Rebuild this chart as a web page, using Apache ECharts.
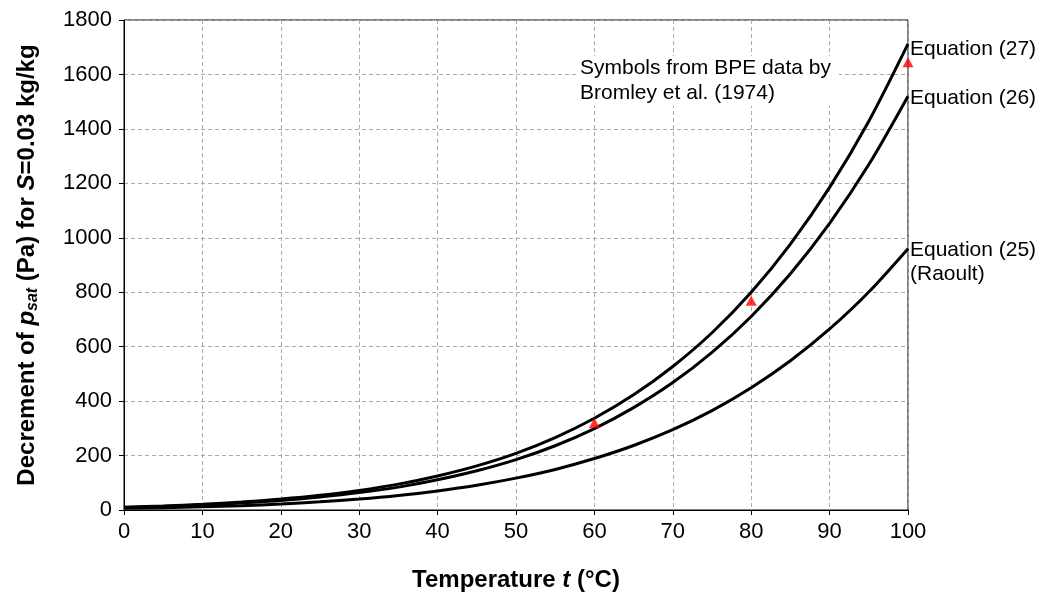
<!DOCTYPE html>
<html>
<head>
<meta charset="utf-8">
<script src="https://cdn.jsdelivr.net/npm/echarts@6/dist/echarts.min.js"></script>
<style>html,body{margin:0;padding:0;background:#fff;}#c{width:1054px;height:599px;}</style>
</head>
<body>
<div id="c"></div>
<script>
var temps = [0,5,10,15,20,25,30,35,40,45,50,55,60,65,70,75,80,85,90,95,100];
var eq25 = [6,8,12,16,22,30,40,53,70,91,117,149,189,237,295,365,449,548,665,801,960];
var eq26 = [9,13,18,26,35,48,64,84,111,144,185,236,299,376,468,579,711,868,1053,1269,1520];
var eq27 = [10,15,21,29,40,54,72,95,125,162,208,266,337,423,527,651,800,977,1185,1428,1712];
var bpeT = [60,80,100];
var bpeV = [320,769,1645];
var xTicks = [0,100,10];
var yTicks = [0,1800,200];

function pairs(xs, ys){ return xs.map(function(x,i){return [x, ys[i]];}); }
var FONT = 'Liberation Sans, Arial, sans-serif';
function lineSeries(name, data, label, off){
  return {
    name: name, type: 'line', data: pairs(temps, data), showSymbol: false, smooth: 0.3,
    lineStyle: {color: '#000', width: 3}, silent: true, z: 3,
    endLabel: {show: true, formatter: label, color: '#000', fontSize: 21, fontFamily: FONT,
      align: 'left', verticalAlign: 'top', lineHeight: 24, offset: off, distance: 2}
  };
}
var chart = echarts.init(document.getElementById('c'));
chart.setOption({
  animation: false,
  backgroundColor: '#fff',
  grid: {left: 124, right: 146, top: 20, bottom: 89, show: true, borderColor: '#000', borderWidth: 1},
  xAxis: {
    type: 'value', min: xTicks[0], max: xTicks[1], interval: xTicks[2],
    axisLine: {lineStyle: {color: '#000', width: 1}},
    axisTick: {show: true, length: 5, lineStyle: {color: '#000'}},
    axisLabel: {color: '#000', fontSize: 22, fontFamily: FONT, margin: 11},
    splitLine: {show: true, lineStyle: {color: '#aaa', type: [4,3], width: 1}},
    name: '{b|Temperature }{bi|t}{b| (°C)}', nameLocation: 'middle', nameGap: 58,
    nameTextStyle: {rich: {
      b: {fontSize: 24, fontWeight: 'bold', fontFamily: FONT, color: '#000'},
      bi: {fontSize: 24, fontWeight: 'bold', fontStyle: 'italic', fontFamily: FONT, color: '#000'}
    }}
  },
  yAxis: {
    type: 'value', min: yTicks[0], max: yTicks[1], interval: yTicks[2],
    axisLine: {show: true, lineStyle: {color: '#000', width: 1}},
    axisTick: {show: true, length: 5, lineStyle: {color: '#000'}},
    axisLabel: {color: '#000', fontSize: 22, fontFamily: FONT, margin: 12,
      formatter: function(v){ return String(v); }},
    splitLine: {show: true, lineStyle: {color: '#aaa', type: [4,3], width: 1}},
    name: '{b|Decrement of }{bi|p}{sub|sat}{b| (Pa) for }{bi|S}{b|=0.03 kg/kg}',
    nameLocation: 'middle', nameGap: 83,
    nameTextStyle: {rich: {
      b: {fontSize: 24, fontWeight: 'bold', fontFamily: FONT, color: '#000', lineHeight: 28, verticalAlign: 'middle'},
      bi: {fontSize: 24, fontWeight: 'bold', fontStyle: 'italic', fontFamily: FONT, color: '#000', lineHeight: 28, verticalAlign: 'middle'},
      sub: {fontSize: 16, fontWeight: 'bold', fontStyle: 'italic', fontFamily: FONT, color: '#000', lineHeight: 28, verticalAlign: 'bottom', padding: [10,0,0,0]}
    }}
  },
  series: [
    lineSeries('Equation (25)', eq25, 'Equation (25)\n(Raoult)', [0,-10]),
    lineSeries('Equation (26)', eq26, 'Equation (26)', [0,-10]),
    lineSeries('Equation (27)', eq27, 'Equation (27)', [0,-7]),
    {
      name: 'BPE', type: 'scatter', data: pairs(bpeT, bpeV), symbol: 'triangle', symbolSize: [11,10],
      itemStyle: {color: '#ff0000'}, z: 5, silent: true
    }
  ],
  graphic: [{
    type: 'text', left: 576, top: 56, z: 10,
    style: {text: 'Symbols from BPE data by\nBromley et al. (1974)', fill: '#000', fontSize: 21,
      fontFamily: FONT, lineHeight: 25, backgroundColor: '#fff', padding: [0, 8, 0, 4]}
  }]
});
</script>
</body>
</html>
